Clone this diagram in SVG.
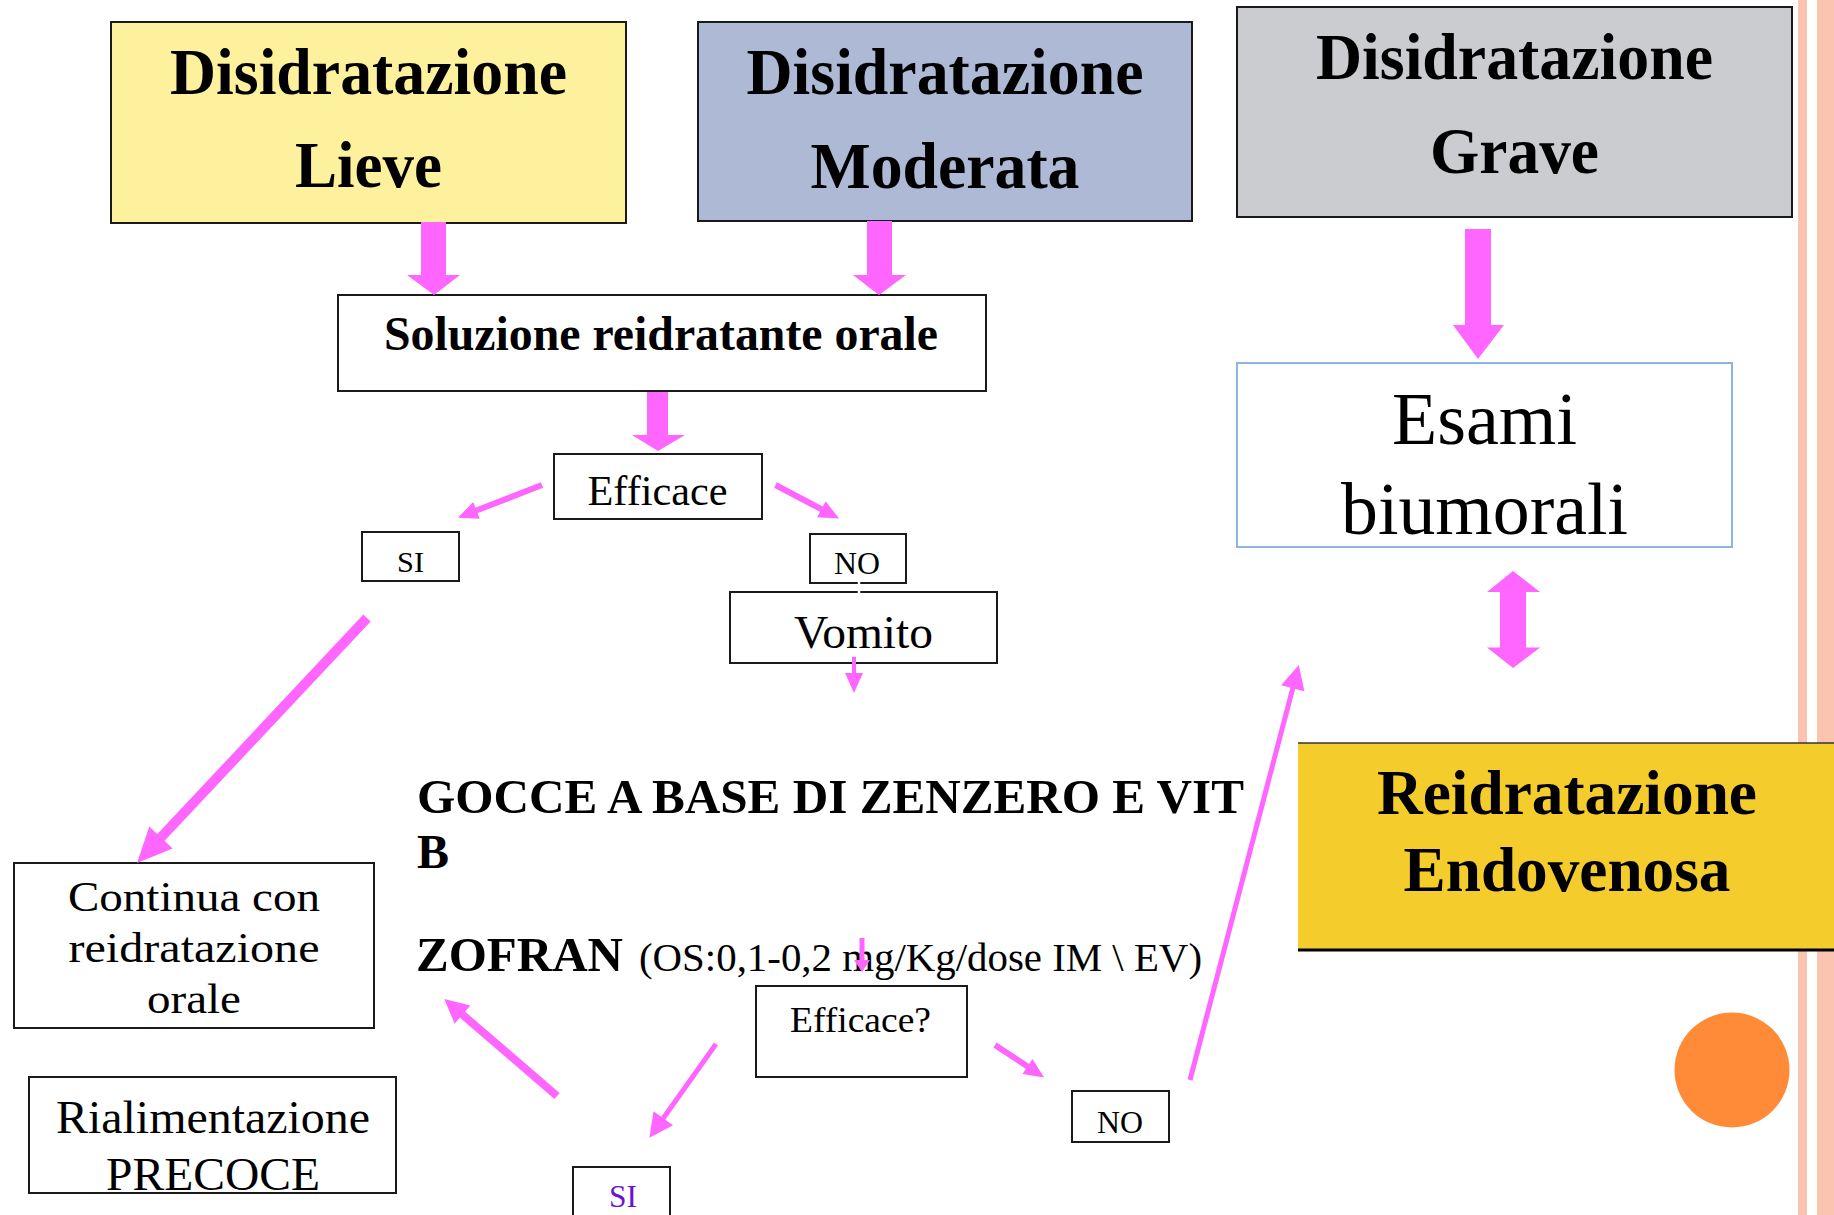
<svg xmlns="http://www.w3.org/2000/svg" width="1834" height="1215" viewBox="0 0 1834 1215">
<style>
.box{stroke:#1a1a1a;stroke-width:2;fill:#ffffff}
.t{font-family:"Liberation Serif","Times New Roman",serif;fill:#000;text-anchor:middle}
.b{font-weight:bold}
.fat{fill:#ff66ff}
.ln{stroke:#ff66ff;fill:none;stroke-linecap:butt}
</style>
<defs>
<marker id="hS" markerUnits="userSpaceOnUse" orient="auto" refX="0" refY="0" markerWidth="30" markerHeight="30" overflow="visible"><path d="M-1,-9 L19,0 L-1,9 Z" fill="#ff66ff"/></marker>
<marker id="hM" markerUnits="userSpaceOnUse" orient="auto" refX="0" refY="0" markerWidth="30" markerHeight="30" overflow="visible"><path d="M-1,-12 L23,0 L-1,12 Z" fill="#ff66ff"/></marker>
<marker id="hL" markerUnits="userSpaceOnUse" orient="auto" refX="0" refY="0" markerWidth="40" markerHeight="40" overflow="visible"><path d="M-1,-16 L34,0 L-1,16 Z" fill="#ff66ff"/></marker>
<marker id="hX" markerUnits="userSpaceOnUse" orient="auto" refX="0" refY="0" markerWidth="20" markerHeight="20" overflow="visible"><path d="M-1,-8 L11,0 L-1,8 Z" fill="#ff66ff"/></marker>
</defs>
<rect x="0" y="0" width="1834" height="1215" fill="#ffffff"/>
<!-- decorative stripes -->
<rect x="1798" y="0" width="9" height="1215" fill="#fbc4b0"/>
<rect x="1817" y="0" width="17" height="1215" fill="#fbc4b0"/>

<g id="lieve">
<rect class="box" x="111" y="22" width="515" height="201" style="fill:#fef19d"/>
<text class="t b" x="368.5" y="94" font-size="66" textLength="397" lengthAdjust="spacingAndGlyphs">Disidratazione</text>
<text class="t b" x="368.5" y="187" font-size="66" textLength="147" lengthAdjust="spacingAndGlyphs">Lieve</text>
</g>
<g id="moderata">
<rect class="box" x="698" y="22" width="494" height="199" style="fill:#aeb9d6"/>
<text class="t b" x="945" y="94" font-size="66" textLength="397" lengthAdjust="spacingAndGlyphs">Disidratazione</text>
<text class="t b" x="945" y="188" font-size="66" textLength="269" lengthAdjust="spacingAndGlyphs">Moderata</text>
</g>
<g id="grave">
<rect class="box" x="1237" y="7" width="555" height="210" style="fill:#cbccd0"/>
<text class="t b" x="1514.5" y="79" font-size="66" textLength="397" lengthAdjust="spacingAndGlyphs">Disidratazione</text>
<text class="t b" x="1514.5" y="173" font-size="66" textLength="169" lengthAdjust="spacingAndGlyphs">Grave</text>
</g>
<g id="soluzione">
<rect class="box" x="338" y="295" width="648" height="96"/>
<text class="t b" x="661" y="350" font-size="48" textLength="554" lengthAdjust="spacingAndGlyphs">Soluzione reidratante orale</text>
</g>
<g id="efficace">
<rect class="box" x="554" y="454" width="208" height="65"/>
<text class="t" x="657.5" y="505" font-size="42" textLength="140" lengthAdjust="spacingAndGlyphs">Efficace</text>
</g>
<g id="si1">
<rect class="box" x="362" y="532" width="97" height="49"/>
<text class="t" x="410.5" y="572" font-size="30" textLength="27" lengthAdjust="spacingAndGlyphs">SI</text>
</g>
<g id="no1">
<rect class="box" x="810" y="534" width="96" height="49"/>
<text class="t" x="857" y="574" font-size="31" textLength="46" lengthAdjust="spacingAndGlyphs">NO</text>
</g>
<g id="vomito">
<rect class="box" x="730" y="592" width="267" height="71"/>
<text class="t" x="863.5" y="648" font-size="46" textLength="139" lengthAdjust="spacingAndGlyphs">Vomito</text>
</g>
<g id="esami">
<rect x="1237" y="363" width="495" height="184" fill="#ffffff" stroke="#8eb4e3" stroke-width="2"/>
<text class="t" x="1484.5" y="444" font-size="73" textLength="185" lengthAdjust="spacingAndGlyphs">Esami</text>
<text class="t" x="1484.5" y="534" font-size="73" textLength="287" lengthAdjust="spacingAndGlyphs">biumorali</text>
</g>
<g id="reidratazione">
<rect x="1298" y="743" width="536" height="207" fill="#f4cd2d"/>
<line x1="1298" y1="743" x2="1834" y2="743" stroke="#333" stroke-width="1.5"/>
<line x1="1298" y1="950" x2="1834" y2="950" stroke="#000" stroke-width="3"/>
<text class="t b" x="1567" y="814" font-size="63" textLength="380" lengthAdjust="spacingAndGlyphs">Reidratazione</text>
<text class="t b" x="1567" y="891" font-size="63" textLength="327" lengthAdjust="spacingAndGlyphs">Endovenosa</text>
</g>
<g id="gocce">
<text class="t b" x="417" y="813" font-size="48" style="text-anchor:start" textLength="827" lengthAdjust="spacingAndGlyphs">GOCCE A BASE DI ZENZERO E VIT</text>
<text class="t b" x="417" y="868" font-size="48" style="text-anchor:start">B</text>
</g>
<g id="zofran">
<text class="t b" x="416" y="971" font-size="49" style="text-anchor:start" textLength="207" lengthAdjust="spacingAndGlyphs">ZOFRAN</text>
<text class="t" x="639" y="971" font-size="39" style="text-anchor:start" textLength="563" lengthAdjust="spacingAndGlyphs">(OS:0,1-0,2 mg/Kg/dose IM \ EV)</text>
</g>
<g id="continua">
<rect class="box" x="14" y="863" width="360" height="165"/>
<text class="t" x="194" y="911" font-size="43" textLength="252" lengthAdjust="spacingAndGlyphs">Continua con</text>
<text class="t" x="194" y="962" font-size="43" textLength="251" lengthAdjust="spacingAndGlyphs">reidratazione</text>
<text class="t" x="194" y="1013" font-size="43" textLength="94" lengthAdjust="spacingAndGlyphs">orale</text>
</g>
<g id="rialimentazione">
<rect class="box" x="29" y="1077" width="367" height="116"/>
<text class="t" x="213" y="1133" font-size="46" textLength="314" lengthAdjust="spacingAndGlyphs">Rialimentazione</text>
<text class="t" x="213" y="1190" font-size="46" textLength="214" lengthAdjust="spacingAndGlyphs">PRECOCE</text>
</g>
<g id="efficace2">
<rect class="box" x="756" y="986" width="211" height="91"/>
<text class="t" x="860.5" y="1032" font-size="36" textLength="141" lengthAdjust="spacingAndGlyphs">Efficace?</text>
</g>
<g id="no2">
<rect class="box" x="1072" y="1091" width="97" height="51"/>
<text class="t" x="1120" y="1133" font-size="31" textLength="46" lengthAdjust="spacingAndGlyphs">NO</text>
</g>
<g id="si2">
<rect class="box" x="573" y="1167" width="97" height="60"/>
<text class="t" x="623" y="1207" font-size="31" textLength="28" lengthAdjust="spacingAndGlyphs" style="fill:#6a12d6">SI</text>
</g>
<g id="dot">
<circle cx="1732" cy="1070" r="57.5" fill="#ff8a37"/>
</g>

<g id="connectors">
<polygon class="fat" points="421,222 446,222 446,275 460,275 434,295 407,275 421,275"/>
<polygon class="fat" points="867,221 892,221 892,275 906,275 879,295 853,275 867,275"/>
<polygon class="fat" points="647,392 668,392 668,435 685,435 658,451 632,435 647,435"/>
<polygon class="fat" points="1465,229 1491,229 1491,325 1504,325 1478,359 1453,325 1465,325"/>
<polygon class="fat" points="1513,571 1540,592 1526,592 1526,647.5 1540,647.5 1513,668 1487,647.5 1500,647.5 1500,592 1487,592"/>
<line class="ln" x1="542" y1="485" x2="475.6" y2="510.8" stroke-width="6" marker-end="url(#hS)"/>
<line class="ln" x1="775.5" y1="485" x2="822.3" y2="509.7" stroke-width="6" marker-end="url(#hS)"/>
<line class="ln" x1="854" y1="657" x2="854" y2="674" stroke-width="4" marker-end="url(#hS)"/>
<line x1="859" y1="579" x2="859" y2="595" stroke="#ffffff" stroke-width="2.5"/>
<line class="ln" x1="367" y1="618" x2="160.3" y2="838.2" stroke-width="10" marker-end="url(#hL)"/>
<line class="ln" x1="862" y1="938" x2="862" y2="961" stroke-width="5" marker-end="url(#hX)"/>
<line class="ln" x1="716" y1="1044" x2="662.7" y2="1119" stroke-width="5" marker-end="url(#hM)"/>
<line class="ln" x1="995" y1="1045" x2="1028.3" y2="1067" stroke-width="6" marker-end="url(#hS)"/>
<line class="ln" x1="557" y1="1096" x2="461.7" y2="1014" stroke-width="8" marker-end="url(#hM)"/>
<line class="ln" x1="1190" y1="1080" x2="1293" y2="687.3" stroke-width="5" marker-end="url(#hM)"/>
</g>
</svg>
